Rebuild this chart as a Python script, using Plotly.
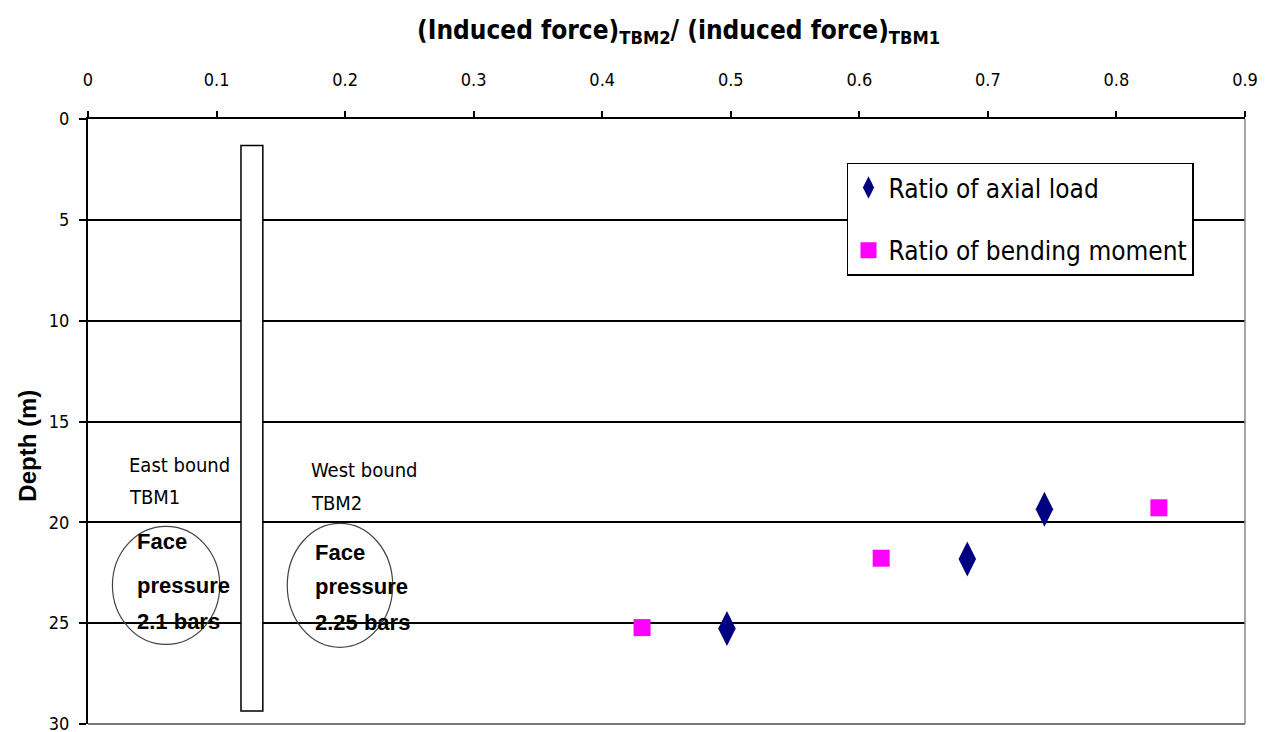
import plotly.graph_objects as go

# ratios (x = ratio, y = depth in m)
axial_ratio = [0.744, 0.684, 0.497]
axial_depth = [19.35, 21.82, 25.27]
bending_ratio = [0.833, 0.617, 0.431]
bending_depth = [19.28, 21.78, 25.22]

x_ticks = [0, 0.1, 0.2, 0.3, 0.4, 0.5, 0.6, 0.7, 0.8, 0.9]
y_ticks = [0, 5, 10, 15, 20, 25, 30]

narrow = "DejaVu Sans Condensed, Liberation Sans, Arial, sans-serif"
plain = "Liberation Sans, Arial, sans-serif"

fig = go.Figure()
fig.add_trace(go.Scatter(
    x=axial_ratio, y=axial_depth, mode="markers", name="Ratio of axial load",
    legendgroup="a",
    marker=dict(symbol="diamond-tall", size=25, color="#000080"),
))
fig.add_trace(go.Scatter(
    x=bending_ratio, y=bending_depth, mode="markers", name="Ratio of bending moment",
    legendgroup="b",
    marker=dict(symbol="square", size=17, color="#FF00FF"),
))

# tunnel wall between the two bores
fig.add_shape(type="rect", x0=0.119, x1=0.136, y0=1.32, y1=29.35,
              line=dict(color="black", width=1.5), fillcolor="white", layer="above")

# face-pressure circles
fig.add_shape(type="circle", x0=0.019, x1=0.1025, y0=20.2, y1=26.05,
              line=dict(color="#444", width=1.2), layer="above")
fig.add_shape(type="circle", x0=0.155, x1=0.237, y0=20.05, y1=26.2,
              line=dict(color="#444", width=1.2), layer="above")

# plot area border (grey right and bottom)
fig.add_shape(type="line", xref="paper", yref="paper", x0=1, x1=1, y0=0, y1=1,
              line=dict(color="#888", width=1.5))
fig.add_shape(type="line", xref="paper", yref="paper", x0=0, x1=1, y0=0, y1=0,
              line=dict(color="#777", width=2), layer="above")

labels = [
    ("East bound", 0.030, 17.16, False),
    ("TBM1", 0.030, 18.75, False),
    ("West bound", 0.172, 17.4, False),
    ("TBM2", 0.172, 19.04, False),
    ("Face", 0.0366, 20.93, True),
    ("pressure", 0.0366, 23.11, True),
    ("2.1 bars", 0.0366, 24.9, True),
    ("Face", 0.175, 21.5, True),
    ("pressure", 0.175, 23.2, True),
    ("2.25 bars", 0.175, 24.95, True),
]
for txt, x, y, bold in labels:
    fig.add_annotation(
        x=x, y=y, text=f"<b>{txt}</b>" if bold else txt, showarrow=False,
        xanchor="left", yanchor="middle",
        font=dict(family=plain if bold else narrow, size=22 if bold else 20, color="black"),
    )

# title on top and y-axis title
fig.add_annotation(
    x=0.51, y=1.0, xref="paper", yref="paper", yshift=88, showarrow=False,
    xanchor="center", yanchor="middle",
    text="<b>(Induced force)<sub>TBM2</sub>/ (induced force)<sub>TBM1</sub></b>",
    font=dict(family=narrow, size=26, color="black"),
)
fig.add_annotation(
    x=0, y=0.46, xref="paper", yref="paper", xshift=-60, showarrow=False,
    textangle=-90, xanchor="center", yanchor="middle",
    text="<b>Depth (m)</b>", font=dict(family=plain, size=24, color="black"),
)

# the page body adds an 8px offset, so the figure is 8px smaller on each side
fig.update_layout(
    width=1258, height=724,
    margin=dict(l=80, r=21, t=111, b=8),
    plot_bgcolor="white", paper_bgcolor="white",
    font=dict(family=narrow, size=18, color="black"),
    showlegend=True,
    legend=dict(
        x=0.656, y=0.928, xanchor="left", yanchor="top",
        bgcolor="white", bordercolor="black", borderwidth=1.5,
        font=dict(family=narrow, size=26, color="black"),
        tracegroupgap=26, traceorder="grouped",
    ),
    xaxis=dict(
        side="top", range=[0, 0.9], tickvals=x_ticks, ticktext=[f"{v:g}" for v in x_ticks],
        showgrid=False, zeroline=False, showline=True, linecolor="black", linewidth=2,
        ticks="outside", ticklen=6, tickcolor="black", tickwidth=1.5, ticklabelstandoff=18,
        automargin=False,
    ),
    yaxis=dict(
        range=[30, 0], tickvals=y_ticks, showgrid=True, gridcolor="black", gridwidth=2,
        zeroline=False, showline=True, linecolor="black", linewidth=2,
        ticks="outside", ticklen=7, tickcolor="black", tickwidth=1.5, ticklabelstandoff=6,
        ticklabeloverflow="allow", automargin=False,
    ),
)

fig.write_html("out.html")
